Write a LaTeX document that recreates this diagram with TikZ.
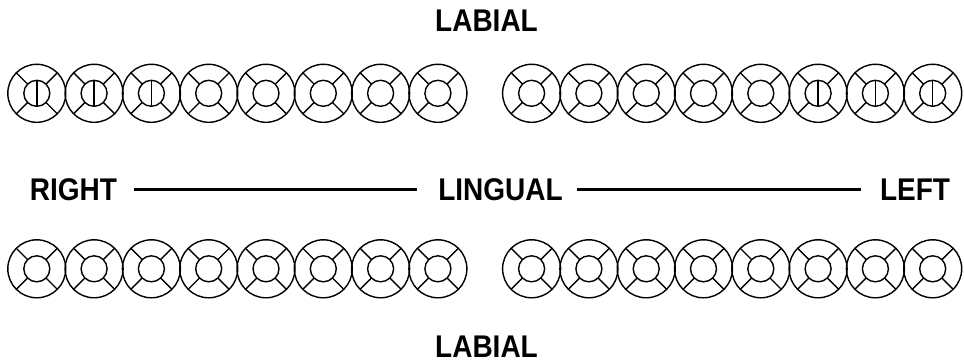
\documentclass[tikz,border=0pt]{standalone}
\usepackage{fontspec}
\setmainfont{Liberation Sans}
\usetikzlibrary{positioning}
\tikzset{
  lbl/.style={font=\bfseries\fontsize{28}{30}\selectfont, inner sep=0pt, yscale=1.12},
  rule/.style={line width=3pt},
  tooth/.pic={
    \draw (0,0) circle (29pt) (0,0) circle (13pt);
    \foreach \a in {45,135,225,315} \draw (\a:13pt) -- (\a:29pt);
  },
}
\begin{document}
\begin{tikzpicture}[x=1pt, y=-1pt, line width=1.4pt]
\useasboundingbox (0,0) rectangle (964,362);
% teeth
\foreach \i in {0,...,7} {
  \pic at ({36.8+57.3*\i},93.3) {tooth};
  \pic at ({531.6+57.3*\i},93.3) {tooth};
  \pic at ({36.8+57.3*\i},268.8) {tooth};
  \pic at ({531.6+57.3*\i},268.8) {tooth};
}
\foreach \i in {0,1,2} \draw ({36.8+57.3*\i},80.3) -- ++(0,26);
\foreach \i in {5,6,7} \draw ({531.6+57.3*\i},80.3) -- ++(0,26);
% labels
\node[lbl] (labT) at (486.5,20.3) {LABIAL};
\node[lbl] (lng) at (500.5,189.4) {LINGUAL};
\node[lbl] (rt) at (73.5,189.4) {RIGHT};
\node[lbl] (lf) at (915,189.4) {LEFT};
\node[lbl] (labB) at (486.5,346.5) {LABIAL};
\draw[rule, shorten <=16pt, shorten >=21pt] (rt) -- (lng);
\draw[rule, shorten <=14pt, shorten >=18pt] (lng) -- (lf);
\end{tikzpicture}
\end{document}
